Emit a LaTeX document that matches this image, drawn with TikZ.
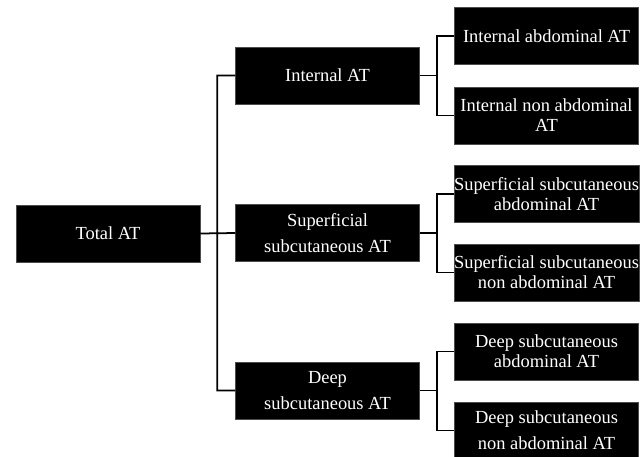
\documentclass[tikz,border=0pt]{standalone}
\usepackage{fontspec}
\setmainfont{Liberation Serif}

\tikzset{
  atbox/.style   = {shape = rectangle, fill = black, draw = black!70, line width = 0.3pt,
                    text = white, align = center, inner sep = 0pt,
                    minimum width = 3.68cm, minimum height = 1.14cm,
                    font = \fontsize{10.5}{11.4}\selectfont},
  atloose/.style = {atbox, font = \fontsize{10.5}{14.8}\selectfont},
  link/.style    = {draw = black, line width = 1pt}
}

\begin{document}
\begin{tikzpicture}[x = 0.02cm, y = -0.02cm]
        \useasboundingbox (0, 0) rectangle (644, 456);

        % ------------------------------------------------------------------------
        % Root and middle column
        \node[atbox]   at (108,   233.5) (total)  {Total AT};

        \node[atbox]   at (327.5,  75.5) (intern) {Internal AT};
        \node[atloose] at (327.5, 233)   (superf) {Superficial\\subcutaneous AT};
        \node[atloose] at (327.5, 390.5) (deep)   {Deep\\subcutaneous AT};

        % ------------------------------------------------------------------------
        % Right column
        \node[atbox]   at (546.5,  36)   (intabd)  {Internal abdominal AT};
        \node[atbox]   at (546.5, 115.5) (intnon)  {Internal non abdominal\\AT};
        \node[atbox]   at (546.5, 194)   (supabd)  {Superficial subcutaneous\\abdominal AT};
        \node[atbox]   at (546.5, 272.5) (supnon)  {Superficial subcutaneous\\non abdominal AT};
        \node[atbox]   at (546.5, 351.5) (deepabd) {Deep subcutaneous\\abdominal AT};
        \node[atloose] at (546.5, 430.5) (deepnon) {Deep subcutaneous\\non abdominal AT};

        % ------------------------------------------------------------------------
        % Connectors
        \draw[link]
          (total.east) -- (superf.west)
          (intern.west) -- ++(-18, 0) |- (deep.west)
        ;
        \draw[link]
          (intern.east) -- ++(17, 0)
          (intabd.west) -- ++(-17, 0) |- (intnon.west)
          (superf.east) -- ++(17, 0)
          (supabd.west) -- ++(-17, 0) |- (supnon.west)
          (deep.east) -- ++(17, 0)
          (deepabd.west) -- ++(-17, 0) |- (deepnon.west)
        ;
      \end{tikzpicture}
\end{document}
